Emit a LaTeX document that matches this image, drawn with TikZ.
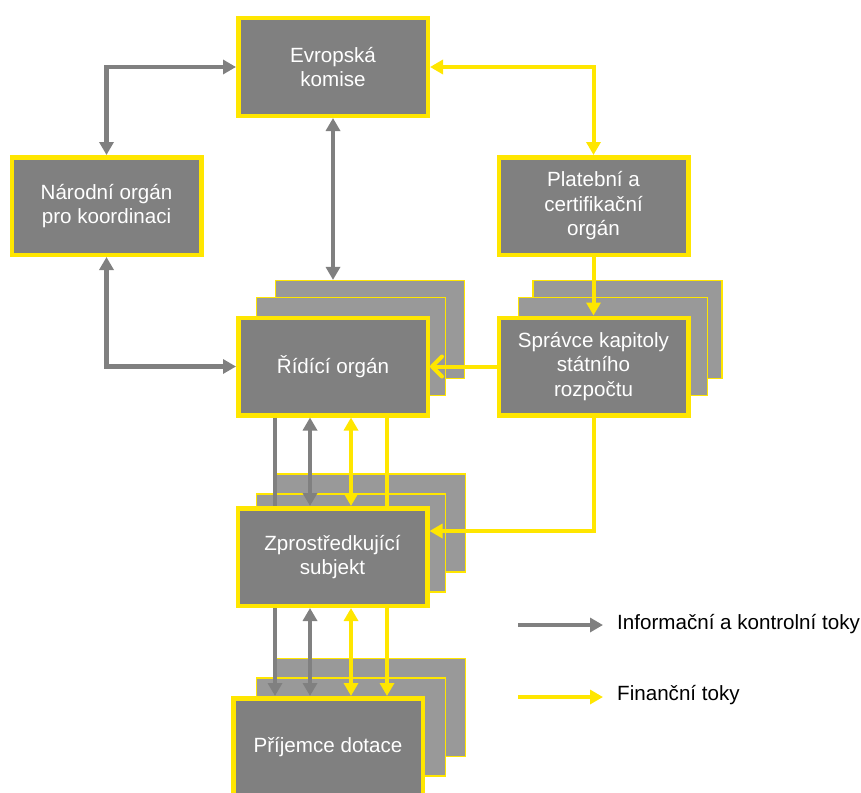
\documentclass[tikz,border=0pt]{standalone}
\usepackage{fontspec}
\setmainfont{Liberation Sans}
\usetikzlibrary{calc,arrows.meta,positioning,backgrounds}
\definecolor{boxgray}{RGB}{128,128,128}
\definecolor{stackgray}{RGB}{153,153,153}
\definecolor{infogray}{RGB}{128,128,128}
\definecolor{finyellow}{RGB}{255,230,0}

\begin{document}
\begin{tikzpicture}[x=1pt,y=-1pt,
		organ/.style={draw=finyellow, line width=4.5pt, fill=boxgray, text=white, align=center,
			minimum width=189.5pt, minimum height=97.5pt, font=\fontsize{20.6}{24.5}\selectfont},
		stackbox/.style={draw=finyellow, line width=1.2pt, fill=stackgray,
			minimum width=189pt, minimum height=98pt},
		infoflow/.style={draw=infogray, line width=4.5pt, >={Triangle[length=13pt,width=14pt]}},
		finflow/.style={draw=finyellow, line width=4pt, >={Triangle[length=13pt,width=14pt]}},
		barbtip/.style={>={Straight Barb[length=10pt,width=20pt,round]}},
		legend/.style={anchor=base west, inner sep=0pt, font=\fontsize{20.6}{24.5}\selectfont}]
					
					\useasboundingbox (0,0) rectangle (861,792);
					\clip (0,0) rectangle (861,792);
					
					\node[organ] (komise) at (333,67) {Evropská\\komise};
					\node[organ] (narodni) at (106.5,206) {Národní orgán\\pro koordinaci};
					\node[organ] (platebni) at (593.5,206) {Platební a\\certifikační\\orgán};
					\node[organ] (rizeni) at (333,366.5) {Řídící orgán};
					\node[organ] (spravce) at (593.5,366.5) {Správce kapitoly\\státního\\rozpočtu};
					\node[organ] (zprost) at (332.5,557) {Zprostředkující\\subjekt};
					\node[organ] (prijemce) at (328,747) {Příjemce dotace};
					
					% stacked copies behind the boxes
					\begin{scope}[on background layer]
						\node[stackbox] (rizeni-2) at ([shift={(37,-37)}]rizeni.center) {};
						\node[stackbox] (rizeni-1) at ([shift={(18,-20)}]rizeni.center) {};
						\node[stackbox] (spravce-2) at ([shift={(34,-37)}]spravce.center) {};
						\node[stackbox] (spravce-1) at ([shift={(19.5,-20)}]spravce.center) {};
						\node[stackbox] (zprost-2) at ([shift={(38.5,-34)}]zprost.center) {};
						\node[stackbox] (zprost-1) at ([shift={(18.5,-14)}]zprost.center) {};
						\node[stackbox] (prijemce-2) at ([shift={(43,-39.5)}]prijemce.center) {};
						\node[stackbox] (prijemce-1) at ([shift={(23,-20)}]prijemce.center) {};
					\end{scope}
					
					\draw[infoflow,<->] (narodni.north) |- (komise.west);
					\draw[finflow,<->] (komise.east) -| (platebni.north);
					\draw[infoflow,<->] (komise.south) -- (komise.south |- rizeni-2.north);
					\draw[finflow,->] (platebni.south) -- (spravce.north);
					\draw[finflow,barbtip,->] (spravce.west) -- (rizeni.east);
					\draw[infoflow,<->] (narodni.south) |- (rizeni.west);
					\draw[finflow,->] (spravce.south) |- ([yshift=26pt]zprost.east);
					
					\draw[infoflow] ([xshift=-58pt]rizeni.south) -- ([xshift=-58pt]rizeni.south |- zprost.north);
					\draw[infoflow,<->] ([xshift=-23pt]rizeni.south) -- ([xshift=-23pt]rizeni.south |- zprost.north);
					\draw[finflow,<->] ([xshift=18pt]rizeni.south) -- ([xshift=18pt]rizeni.south |- zprost.north);
					\draw[finflow] ([xshift=54pt]rizeni.south) -- ([xshift=54pt]rizeni.south |- zprost.north);
					
					\draw[infoflow,->] ([xshift=-57.5pt]zprost.south) -- ([xshift=-57.5pt]zprost.south |- prijemce.north);
					\draw[infoflow,<->] ([xshift=-22.5pt]zprost.south) -- ([xshift=-22.5pt]zprost.south |- prijemce.north);
					\draw[finflow,<->] ([xshift=18.5pt]zprost.south) -- ([xshift=18.5pt]zprost.south |- prijemce.north);
					\draw[finflow,->] ([xshift=54.5pt]zprost.south) -- ([xshift=54.5pt]zprost.south |- prijemce.north);
					
					% legend
					\node[legend] (infotext) at (617,629) {Informační a kontrolní toky};
					\node[legend] (fintext) at (617,700) {Finanční toky};
					\coordinate (infostart) at (518,625);
					\coordinate (finstart) at (518,697);
					\draw[infoflow,->] (infostart) -- (infostart -| 603,0);
					\draw[finflow,->] (finstart) -- (finstart -| 603,0);
			\end{tikzpicture}
\end{document}
